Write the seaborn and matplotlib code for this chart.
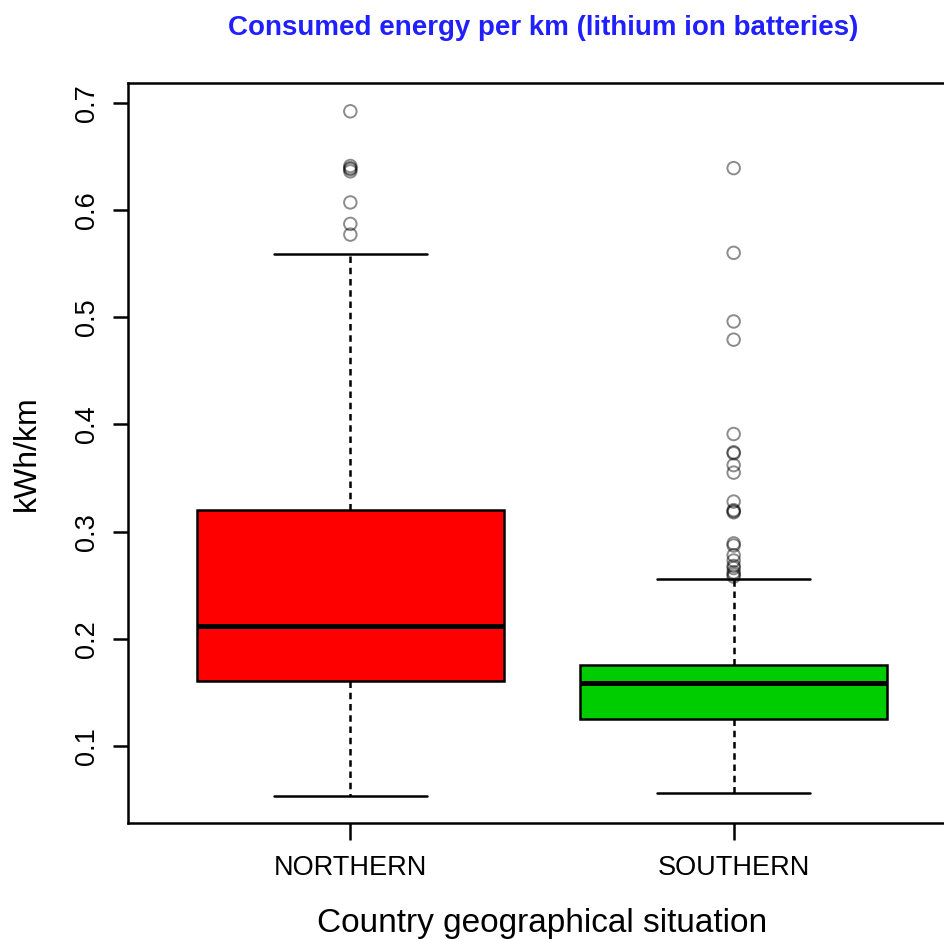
import matplotlib
matplotlib.use("Agg")
import matplotlib.pyplot as plt
import numpy as np
import pandas as pd
import seaborn as sns

# Summary statistics of consumed energy per km (kWh/km) by region
regions = ["NORTHERN", "SOUTHERN"]
box_colors = ["#FF0000", "#00CD00"]
whisker_low = [0.053, 0.056]
quartile_1 = [0.161, 0.125]
medians = [0.212, 0.159]
quartile_3 = [0.320, 0.176]
whisker_high = [0.559, 0.256]

# Observations beyond the whiskers
outliers_northern = [0.692, 0.641, 0.639, 0.638, 0.636, 0.607, 0.587, 0.577]
outliers_southern = [0.639, 0.560, 0.496, 0.479, 0.391, 0.374, 0.373, 0.362,
                     0.355, 0.328, 0.320, 0.319, 0.318, 0.289, 0.287, 0.278,
                     0.273, 0.268, 0.266, 0.262, 0.260, 0.258]

y_ticks = [0.1, 0.2, 0.3, 0.4, 0.5, 0.6, 0.7]

sns.set_style("ticks")
plt.rcParams["font.family"] = ["Liberation Sans", "DejaVu Sans"]

# Five-number summary per region: with whis=(0, 100) the box shows
# quartiles/median and the whiskers reach the extremes.
summary = pd.DataFrame({
    "region": np.repeat(regions, 5),
    "kwh": np.ravel(np.column_stack([whisker_low, quartile_1, medians,
                                     quartile_3, whisker_high])),
})
flier_df = pd.DataFrame({
    "region": ["NORTHERN"] * len(outliers_northern)
              + ["SOUTHERN"] * len(outliers_southern),
    "kwh": outliers_northern + outliers_southern,
})

fig = plt.figure(figsize=(9.45, 9.39), dpi=100)
ax = fig.add_axes([128 / 945, 1 - 823 / 939, 828 / 945, 740 / 939])

sns.boxplot(
    data=summary, x="region", y="kwh", hue="region", order=regions,
    hue_order=regions, palette=box_colors, legend=False, ax=ax,
    whis=(0, 100), showfliers=False, width=0.8, saturation=1,
    linecolor="black", linewidth=1.8,
    medianprops=dict(linewidth=3.6, color="black"),
    whiskerprops=dict(linestyle=(0, (2.6, 1.9)), linewidth=1.8, color="black"),
    capprops=dict(linewidth=1.8, color="black"),
)

sns.stripplot(
    data=flier_df, x="region", y="kwh", order=regions, jitter=False,
    ax=ax, size=9, marker="o", color="black", facecolors="none",
    edgecolor=(0, 0, 0, 0.45), linewidth=1.4, zorder=4,
)

ax.set_xlim(-0.58, 1.58)
ax.set_ylim(0.0282, 0.7184)
ax.set_yticks(y_ticks)
ax.set_yticklabels([f"{t:.1f}" for t in y_ticks])

for side in ["left", "bottom", "top", "right"]:
    ax.spines[side].set_visible(True)
    ax.spines[side].set_linewidth(1.8)
    ax.spines[side].set_color("black")

ax.tick_params(axis="both", width=1.8, color="black",
               labelsize=19.5, labelcolor="black", direction="out",
               top=False, right=False)
ax.tick_params(axis="y", pad=9, length=11)
ax.tick_params(axis="x", pad=11, length=12)
plt.setp(ax.get_yticklabels(), rotation=90, va="center", ha="right")

ax.set_xlabel("Country geographical situation", fontsize=24, color="black")
ax.xaxis.set_label_coords(0.5, -0.147)
ax.xaxis.label.set_va("baseline")
ax.set_ylabel("kWh/km", fontsize=23, color="black")
ax.yaxis.set_label_coords(-0.122, 0.5)
ax.yaxis.label.set_va("center")

fig.text(543 / 945, 1 - 28 / 939,
         "Consumed energy per km (lithium ion batteries)",
         ha="center", va="center", fontsize=20, fontweight="bold",
         color="#2020FF")

fig.savefig("out.png", dpi=100, facecolor="white")
